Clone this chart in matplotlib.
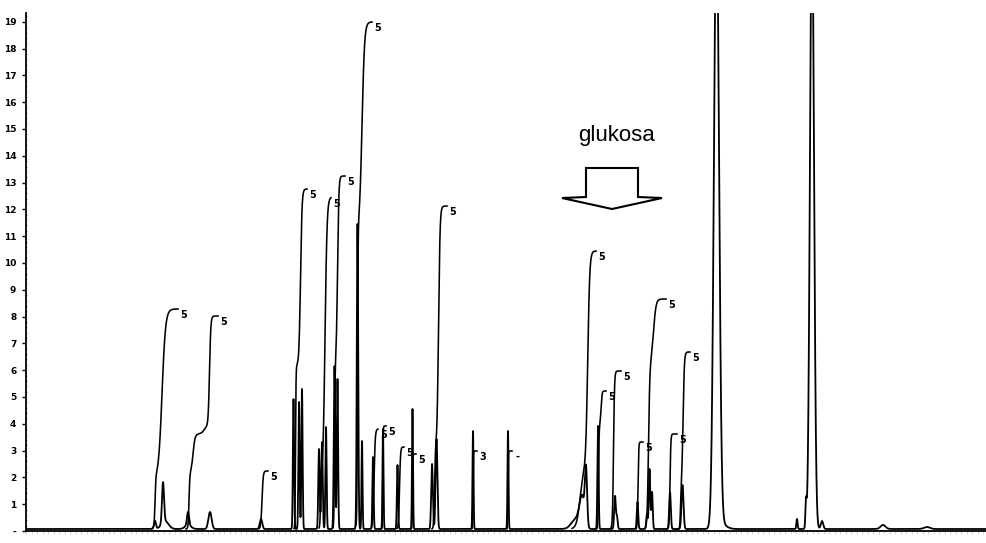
import numpy as np
import matplotlib
matplotlib.use("Agg")
import matplotlib.pyplot as plt
from matplotlib.patches import Polygon

# ---------------- data ----------------
# chromatogram peaks: position (scan units), height (detector counts), width (sigma)
peak_pos = [129, 137, 139, 162, 162, 184, 235,
            267.5, 273, 276, 293, 296, 300, 308.5, 311.5,
            331.5, 336, 347, 357, 371.5, 386.5, 406, 410.5,
            447, 482,
            550, 556, 560,
            572, 589, 591, 611.5, 621, 623.5, 626, 644, 656.5,
            690.5, 695, 771, 780, 786, 796, 857, 901]
peak_height = [8, 40, 8, 13, 4, 17, 10,
               130, 127, 140, 80, 87, 102, 163, 150,
               305, 88, 72, 100, 64, 120, 65, 90,
               98, 98,
               10, 30, 55,
               103, 33, 12, 27, 15, 60, 37, 37, 44,
               620, 5, 10, 25, 620, 8, 4, 2]
peak_sigma = [1.0, 1.0, 3.5, 1.0, 3.0, 1.6, 1.2,
              0.6, 0.6, 0.6, 0.7, 0.7, 0.6, 0.7, 0.6,
              0.7, 0.5, 0.6, 0.5, 0.6, 0.5, 0.8, 0.9,
              0.5, 0.5,
              4.5, 2.5, 1.1,
              0.6, 0.8, 0.7, 0.7, 0.7, 0.7, 0.7, 0.8, 1.0,
              2.5, 5.0, 0.6, 0.6, 2.0, 1.2, 2.5, 3.0]

# integrator trace segments: start, end, steps (centre, rise, width), printed mark
integ_start = [126, 160, 233, 268, 293, 307, 330, 345, 355, 371, 385, 406,
               446, 481, 546, 570, 585, 610, 619, 641, 651]
integ_end = [152, 192, 242, 281, 305, 319, 346, 352, 360, 378, 390, 421,
             451, 486, 570, 580, 595, 617, 640, 651, 664]
integ_steps = [
    [(129, 50, 0.8), (136, 170, 3.5)],
    [(163, 55, 0.8), (167, 40, 2.0), (178, 8, 3.0), (183.5, 110, 1.3)],
    [(236, 58, 1.2)],
    [(269.5, 163, 0.5), (274.5, 177, 1.5)],
    [(294.5, 50, 0.6), (299, 282, 2.0)],
    [(308.5, 163, 0.6), (311.5, 190, 1.3)],
    [(331.5, 300, 0.6), (336, 207, 2.5)],
    [(348, 100, 1.2)],
    [(356.8, 103, 0.4)],
    [(373.5, 82, 1.0)],
    [(386.5, 75, 0.4)],
    [(408.5, 80, 0.8), (412.5, 243, 1.5)],
    [(447, 78, 0.4)],
    [(482, 78, 0.4)],
    [(554, 60, 3.5), (561.7, 218, 2.0)],
    [(572.5, 103, 0.6), (575, 35, 1.0)],
    [(587.5, 158, 1.0)],
    [(612, 87, 0.7)],
    [(622.5, 165, 1.3), (627.5, 65, 2.5)],
    [(644, 95, 0.8)],
    [(654.5, 40, 0.6), (657, 137, 1.3)],
]
integ_labels = ["5", "5", "5", "5", "5", "5", "5", "5", "5", "5", "5", "5",
                "3", "-", "5", "5", "5", "5", "5", "5", "5"]

ytick_labels = ["-", "1", "2", "3", "4", "5", "6", "7", "8", "9", "10",
                "11", "12", "13", "14", "15", "16", "17", "18", "19"]

annotation_text = "glukosa"
glucose_pos = 586          # position of the glucose peak (arrow tip)

# ---------------- figure ----------------
W, H = 987, 543
fig = plt.figure(figsize=(W / 100, H / 100), dpi=100)
ax = fig.add_axes([26 / W, 12 / H, 961 / W, 518 / H])
ax.set_xlim(0, 961)
ax.set_ylim(-2, 516)

x = np.arange(0, 961.01, 0.05)
signal = np.zeros_like(x)
for p, h, s in zip(peak_pos, peak_height, peak_sigma):
    signal += h * np.exp(-0.5 * ((x - p) / s) ** 2)
ax.plot(x, signal, color="black", lw=1.3, solid_joinstyle="round")

for xs, xe, steps, lab in zip(integ_start, integ_end, integ_steps, integ_labels):
    xi = np.linspace(xs, xe, 500)
    yi = np.zeros_like(xi)
    for c, a, w in steps:
        yi += a * 0.5 * (1 + np.tanh((xi - c) / w))
    ax.plot(xi, yi, color="black", lw=1.15)
    ax.annotate(lab, (xi[-1], yi[-1]), xytext=(6, -6), textcoords="offset pixels",
                ha="center", va="center", fontsize=7, fontweight="bold")

# glucose arrow and label
g = glucose_pos
arrow = [(g - 26, 361), (g + 26, 361), (g + 26, 332), (g + 50, 331),
         (g, 320), (g - 50, 331), (g - 26, 332)]
ax.add_patch(Polygon(arrow, closed=True, facecolor="white", edgecolor="black",
                     lw=1.5, joinstyle="miter"))
ax.text(g + 4.5, 394, annotation_text, ha="center", va="center", fontsize=16,
        family="Liberation Sans")

# axes styling
for s in ("top", "right"):
    ax.spines[s].set_visible(False)
ax.spines["left"].set_linewidth(1.3)
ax.spines["bottom"].set_linewidth(1.3)
yt = -2 + 26.8 * np.arange(20)
ax.set_yticks(yt)
ax.set_yticklabels(ytick_labels, fontsize=6.5, fontweight="bold")
ax.set_yticks(-2 + 26.8 / 5 * np.arange(97), minor=True)
ax.tick_params(axis="y", which="major", length=3, width=1, pad=4, direction="out")
ax.tick_params(axis="y", which="minor", length=2, width=0.5, direction="inout", color="0.4")
ax.set_xticks([])
ax.set_xticks(np.arange(0, 961, 5.5), minor=True)
ax.tick_params(axis="x", which="minor", length=2.5, width=0.5, color="0.75", direction="out")

fig.savefig("out.png", dpi=100)
